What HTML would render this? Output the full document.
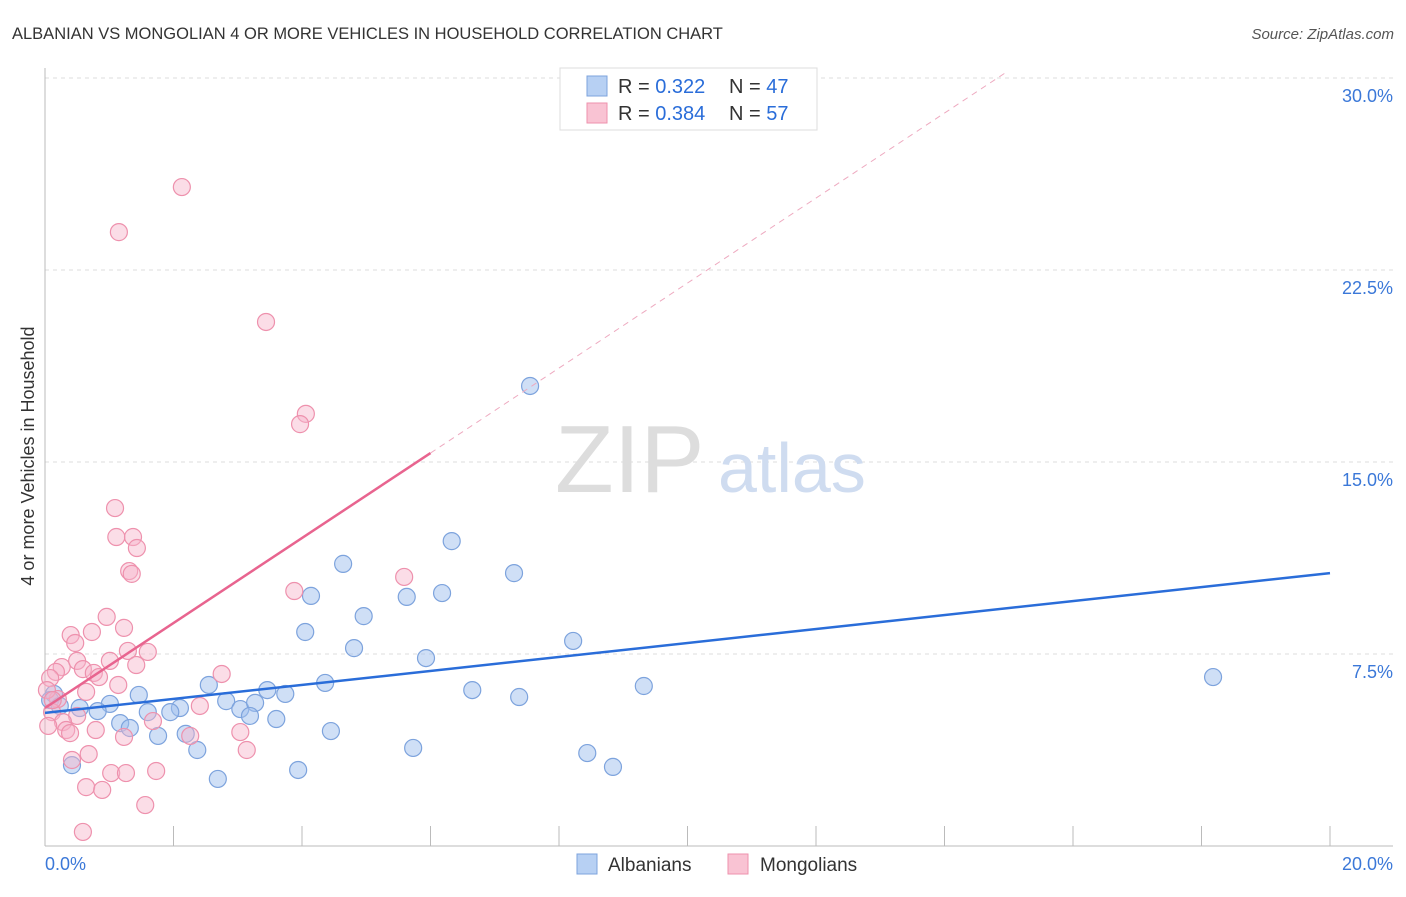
<!DOCTYPE html>
<html><head><meta charset="utf-8"><style>
body{margin:0;background:#fff;font-family:"Liberation Sans",sans-serif}
svg text{font-family:"Liberation Sans",sans-serif}
</style></head><body>
<svg width="1406" height="892">
<text x="12" y="39" font-size="16.5" fill="#333">ALBANIAN VS MONGOLIAN 4 OR MORE VEHICLES IN HOUSEHOLD CORRELATION CHART</text>
<text x="1394" y="39" font-size="15" fill="#555" text-anchor="end" font-style="italic">Source: ZipAtlas.com</text>
<g id="grid"></g>
<text x="555" y="492" font-size="96" fill="#ddd" font-family="Liberation Serif">ZIP</text>
<text x="718" y="492" font-size="70" fill="#cfdcf0">atlas</text>
<g id="pts"></g><g id="lines"></g>
<text x="34" y="456" font-size="18" fill="#333" text-anchor="middle" transform="rotate(-90 34 456)">4 or more Vehicles in Household</text>
<text x="45" y="870" font-size="18" fill="#3b78d8">0.0%</text>
<text x="1393" y="870" font-size="18" fill="#3b78d8" text-anchor="end">20.0%</text>
<g>
<rect x="560" y="68" width="257" height="62" fill="#fff" stroke="#ddd"/>
<rect x="587" y="76" width="20" height="20" fill="#b7d0f3" stroke="#7da3dd"/>
<rect x="587" y="103" width="20" height="20" fill="#f9c3d3" stroke="#ee91ad"/>
<text x="618" y="93" font-size="20" fill="#333">R = <tspan fill="#2a6dd9">0.322</tspan></text>
<text x="729" y="93" font-size="20" fill="#333">N = <tspan fill="#2a6dd9">47</tspan></text>
<text x="618" y="120" font-size="20" fill="#333">R = <tspan fill="#2a6dd9">0.384</tspan></text>
<text x="729" y="120" font-size="20" fill="#333">N = <tspan fill="#2a6dd9">57</tspan></text>
</g>
<g>
<rect x="577" y="854" width="20" height="20" fill="#b7d0f3" stroke="#7da3dd"/>
<text x="608" y="871" font-size="19" fill="#333">Albanians</text>
<rect x="728" y="854" width="20" height="20" fill="#f9c3d3" stroke="#ee91ad"/>
<text x="760" y="871" font-size="19" fill="#333">Mongolians</text>
</g>
</svg>
<script>
const yTicks=[7.5,15,22.5,30];
const xTicks=[0,2,4,6,8,10,12,14,16,18,20];
const bluePx=[[530,386],[452,541],[343,564],[514,573],[311,596],[407,597],[442,593],[364,616],[305,632],[573,641],[354,648],[426,658],[1213,677],[644,686],[472,690],[519,697],[325,683],[267,690],[285,694],[209,685],[139,695],[110,704],[54,694],[50,700],[60,706],[80,708],[98,711],[180,708],[170,712],[148,712],[226,701],[240,709],[255,703],[250,716],[276,719],[120,723],[130,728],[158,736],[186,734],[331,731],[197,750],[413,748],[587,753],[613,767],[298,770],[218,779],[72,765]];
const pinkPx=[[182,187],[119,232],[266,322],[306,414],[300,424],[115,508],[116,537],[133,537],[137,548],[129,571],[132,574],[404,577],[294,591],[107,617],[124,628],[92,632],[71,635],[75,643],[148,652],[128,651],[110,661],[62,667],[77,661],[136,665],[56,672],[83,669],[50,678],[94,673],[99,677],[222,674],[118,685],[86,692],[58,699],[200,706],[52,712],[77,716],[153,721],[63,722],[48,726],[66,730],[70,733],[96,730],[124,737],[190,736],[240,732],[247,750],[89,754],[72,760],[111,773],[126,773],[156,771],[86,787],[102,790],[145,805],[83,832],[47,690],[53,700]];
const blueX=bluePx.map(p=>+((p[0]-45)/64.25).toFixed(2));
const blueY=bluePx.map(p=>+((846-p[1])/25.6).toFixed(2));
const pinkX=pinkPx.map(p=>+((p[0]-45)/64.25).toFixed(2));
const pinkY=pinkPx.map(p=>+((846-p[1])/25.6).toFixed(2));
const blueTrend=[5.2,10.66];
const pinkTrend=[5.39,1.66];
const X=v=>45+v*64.25, Y=v=>846-v*25.6;
const NS="http://www.w3.org/2000/svg";
function mk(t,a,p){const e=document.createElementNS(NS,t);for(const k in a)e.setAttribute(k,a[k]);p.appendChild(e);return e;}
const g=document.getElementById('grid');
yTicks.forEach(t=>{
 const l=mk('line',{x1:45,x2:1393,y1:Y(t),y2:Y(t),stroke:'#ddd','stroke-dasharray':'4,4'},g);
 
 
 const tx=mk('text',{x:1393,y:Y(t)+24,'font-size':18,fill:'#3b78d8','text-anchor':'end'},g);tx.textContent=t.toFixed(1)+'%';
 
 
});
mk('line',{x1:45,x2:45,y1:68,y2:846,stroke:'#bbb'},g);
mk('line',{x1:45,x2:1393,y1:846,y2:846,stroke:'#bbb'},g);
xTicks.forEach(t=>{const l=mk('line',{x1:X(t),x2:X(t),y1:826,y2:846,stroke:'#bbb'},g);
 
 });
const pg=document.getElementById('pts');
blueX.forEach((x,i)=>{const c=mk('circle',{cx:X(x),cy:Y(blueY[i]),r:8.5,fill:'rgba(160,192,238,0.5)',stroke:'#7da3dd','stroke-width':1.2},pg);
 
 });
pinkX.forEach((x,i)=>{const c=mk('circle',{cx:X(x),cy:Y(pinkY[i]),r:8.5,fill:'rgba(247,180,202,0.45)',stroke:'#ee91ad','stroke-width':1.2},pg);
 
 });
const lg=document.getElementById('lines');
const bl=mk('line',{x1:X(0),y1:Y(blueTrend[0]),x2:X(20),y2:Y(blueTrend[1]),stroke:'#2a6dd9','stroke-width':2.5},lg);


const pl=mk('line',{x1:X(0),y1:Y(pinkTrend[0]),x2:X(6),y2:Y(pinkTrend[0]+6*pinkTrend[1]),stroke:'#e8648f','stroke-width':2.5},lg);


const xe=(30.2-pinkTrend[0])/pinkTrend[1];
const pd=mk('line',{x1:X(6),y1:Y(pinkTrend[0]+6*pinkTrend[1]),x2:X(xe),y2:Y(30.2),stroke:'#eeaac0','stroke-width':1,'stroke-dasharray':'6,5'},lg);


</script>
</body></html>
